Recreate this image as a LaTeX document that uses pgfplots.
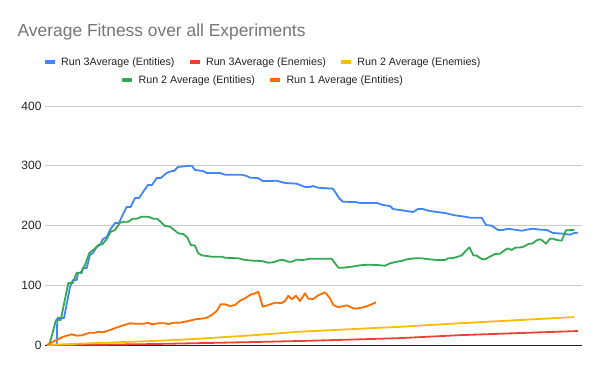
\documentclass[border=0pt]{standalone}
\usepackage{pgfplots}
\pgfplotsset{compat=1.18}
\usepackage{fontspec}
\setmainfont{Liberation Sans}
\definecolor{cblue}{HTML}{4285F4}
\definecolor{cred}{HTML}{EA4335}
\definecolor{cyellow}{HTML}{FBBC04}
\definecolor{cgreen}{HTML}{34A853}
\definecolor{corange}{HTML}{FF6D01}
\definecolor{ctitle}{HTML}{757575}
\definecolor{cgrid}{HTML}{CCCCCC}
\definecolor{ctext}{HTML}{222222}
\pgfplotsset{
  base/.style={
    scale only axis, width=537bp, height=239bp,
    at={(45bp,26bp)}, anchor=south west,
    xmin=45, xmax=582, ymin=0, ymax=400,
    clip=false,
    legend image code/.code={\draw[line width=4bp,line cap=butt] (0bp,0bp) -- (10bp,0bp);},
    legend style={draw=none, fill=none, legend columns=-1,
      font=\fontsize{10.7bp}{13bp}\selectfont, text=ctext,
      nodes={inner xsep=0pt},
      /tikz/every odd column/.append style={column sep=4.5bp},
      /tikz/every even column/.append style={column sep=13bp},
      inner sep=0pt, anchor=center},
  },
  ln/.style={line width=1.8bp, line join=round, no marks},
}
\begin{document}
\begin{tikzpicture}
\path (0,0) rectangle (600bp,371bp);
\node[anchor=base west, inner sep=0pt, text=ctitle, font=\fontsize{17.4bp}{21bp}\selectfont] at (17.5bp,334.5bp) {Average Fitness over all Experiments};
\begin{axis}[base,
  axis lines=left, axis line style={-},
  y axis line style={draw=none},
  x axis line style={draw=ctext},
  xtick=\empty, ytick={0,100,200,300,400},
  major tick length=0pt,
  ymajorgrids, grid style={cgrid, line width=0.8bp},
  yticklabel style={font=\fontsize{12bp}{14bp}\selectfont, text=ctext},
  /pgf/number format/assume math mode=true,
  legend style={at={(0.4032,1.184)}},
]
\addplot[ln, cblue] coordinates {
(47,0) (56.7,0) (57.3,45.2) (64,45.2) (70,97.1) (73,108.8) (76.7,108.8) (78,120.5) (81.7,120.5) (83,128.9) (86.7,128.9) (90,150.6) (93,154) (96.7,164) (100,167.4) (103,177.4) (106.7,180.7) (110,192.5) (115,204.2) (119,204.2) (121.7,214.2) (126.7,231) (130.7,231) (135,246) (139,246) (143,256) (148,267.8) (152,267.8) (156.7,279.5) (160.7,279.5) (166.7,287.9) (171.7,291.2) (174,291.2) (178,297.9) (186.7,299.6) (191.7,300.1) (195,292.9) (203,291.2) (206.7,287.9) (220,287.9) (225,285) (241.7,284.9) (246.7,282.8) (250,280) (258,279.4) (262.7,274.5) (270,274.5) (276.7,275) (285,271.1) (296.7,270) (305,264.4) (310,264.4) (313,266.1) (318,263.3) (333,261.6) (339,246) (342.7,239.8) (355,239.3) (360,237.7) (376.7,237.7) (383,234.3) (390,232.6) (393,227.6) (400,225.9) (413,222.6) (418,227.6) (423,227.6) (428,224.8) (436.7,222.6) (445,220.9) (453,217.6) (460,215.9) (466.7,214.2) (470,213.1) (481.7,213.1) (486,200.8) (491.7,199.7) (498,192.5) (503,192.5) (508,194.6) (516.7,192.5) (521.7,191.3) (526.7,193) (533,194.6) (540,193) (546.7,192.5) (553,187.4) (563,186.3) (570,184.6) (574,187.4) (578,187.9)
};
\addlegendentry{Run 3Average (Entities)}
\addplot[ln, cred] coordinates {
(47,0) (100,0.5) (150,1.5) (190,2.8) (250,4.8) (300,6.7) (350,9) (400,11.5) (460,16.5) (520,20) (578,23.4)
};
\addlegendentry{Run 3Average (Enemies)}
\addplot[ln, cyellow] coordinates {
(47,0) (100,3.5) (150,6.5) (190,9.6) (250,16) (300,22.3) (400,30.5) (450,35.5) (500,40) (574,46.8)
};
\addlegendentry{Run 2 Average (Enemies)}
\end{axis}
\begin{axis}[base, hide axis,
  legend style={at={(0.4032,1.109)}},
]
\addplot[ln, cgreen] coordinates {
(49.3,0) (56,41.8) (60.7,41.8) (68.3,103.8) (72.7,103.8) (76.7,121) (80.7,121) (85,133.9) (89.3,154) (93.3,159) (98.3,167.4) (102.7,169) (106.7,177.4) (110.7,189.6) (115,192.5) (120,204.7) (125,206.4) (128.3,206.4) (132.7,211.4) (136.7,211.4) (141.7,214.7) (148.3,214.7) (153.3,211.4) (157.3,211.4) (165,199.2) (170,198) (178.3,186.9) (183.3,185.8) (187.3,180.2) (190.7,167.4) (195,166.2) (198.3,153.5) (201.7,150.1) (211.7,147.8) (221.7,147.8) (225,146.1) (238.3,145.1) (245,142.3) (253.3,141.1) (261.7,140.6) (268.3,137.7) (273.3,138.4) (280,142.3) (283.3,142.3) (288.3,139.4) (291.7,139.4) (296.7,142.8) (303.3,142.3) (310,144.4) (331.7,144.4) (335,136.7) (338.3,129.4) (343.3,129.4) (351.7,131) (360,133.4) (368.3,134.4) (376.7,133.9) (385,132.7) (390,136.7) (396.7,139.4) (401.7,140.6) (406.7,143.4) (415,145.1) (421.7,145.1) (426.7,143.9) (436.7,142.3) (445,142.3) (448.3,145.1) (453.3,145.6) (460,149) (461.7,150.1) (465,156.1) (469.3,163.5) (473.3,150.1) (476.7,149.5) (481.7,143.9) (485,143.4) (491.7,149.5) (495,152.3) (500,152.8) (505,159) (508.3,161.8) (511.7,159) (515,162.8) (521.7,163.5) (525,165.7) (528.3,169) (532.7,170.2) (536,174.6) (539.3,176.9) (541.7,175.7) (546,169.5) (550,177.9) (553.3,177.9) (556.7,175.7) (561.7,174.6) (566,192) (574.3,192.5)
};
\addlegendentry{Run 2 Average (Entities)}
\addplot[ln, corange] coordinates {
(46.7,0) (55,7.2) (63.3,13.9) (71.7,17.9) (76.7,15.6) (81.7,16.2) (90,20.6) (95,20.6) (98.3,22.3) (103.3,21.3) (110,25.1) (120,31.3) (130,36.3) (135,35.6) (143.3,35.6) (148.3,37.3) (151.7,34.6) (158.3,36.3) (165,36.3) (168.3,35.1) (173.3,37.3) (180,37.3) (188.3,40.2) (196.7,43.5) (201.7,44) (206.7,45.7) (211.7,50.2) (216.7,56.9) (220.7,68.1) (225,68.1) (230,65.3) (235,66.9) (240,74.1) (245,78.2) (250,83.7) (255,86.5) (258.3,89.2) (262.7,64.1) (268.3,66.9) (275,70.8) (281.7,70.3) (285,73.6) (288.3,82.5) (291.7,76.5) (296,82.5) (300,73.6) (305,86.5) (308.3,77.5) (313.3,77) (318.3,83.2) (325,88.2) (330,78.2) (333.3,66.9) (338.3,63.1) (346.7,66.4) (353.3,61.4) (356.7,60.8) (363.3,63.1) (370,66.9) (376,71.5)
};
\addlegendentry{Run 1 Average (Entities)}
\end{axis}
\end{tikzpicture}
\end{document}
